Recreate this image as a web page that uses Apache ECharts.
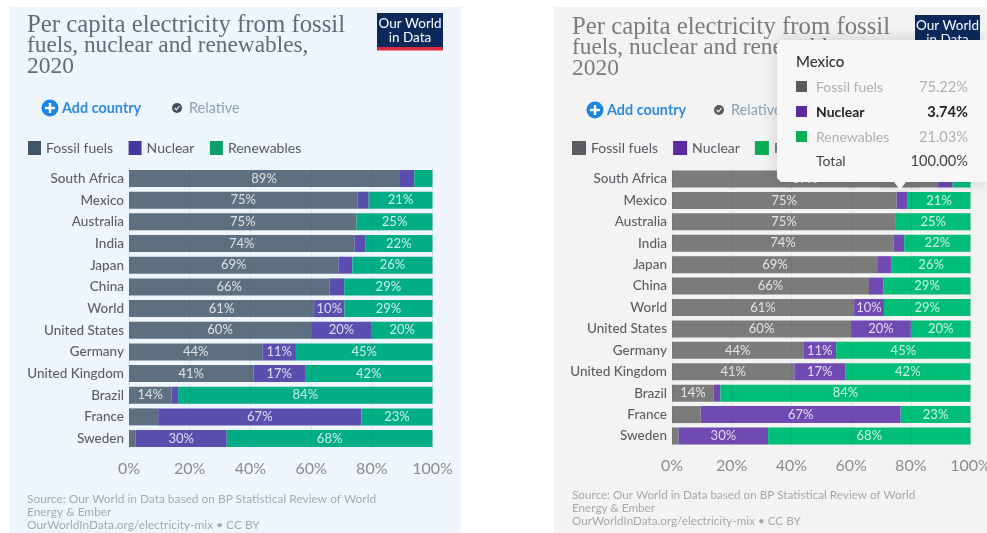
<!DOCTYPE html>
<html>
<head>
<meta charset="utf-8">
<style>html,body{margin:0;padding:0;background:#fff}#c{width:987px;height:533px}</style>
<script src="https://cdn.jsdelivr.net/npm/echarts@6/dist/echarts.min.js"></script>
</head>
<body>
<div id="c"></div>
<script>
const countries = ['South Africa','Mexico','Australia','India','Japan','China','World','United States','Germany','United Kingdom','Brazil','France','Sweden'];
const fossil = [89,75.22,75,74.3,69,66,61,60,44,41,14,9.6,2.2];
const nuclear = [5,3.74,0,3.5,4.6,4.9,10,20,11,17,2.2,67,30];
const renewables = [6,21.03,25,22.2,26.4,29.1,29,20,45,42,83.8,23.4,67.8];
const seriesNames = ['Fossil fuels','Nuclear','Renewables'];
const ticks = [0,20,40,60,80,100];
const titleLines = ['Per capita electricity from fossil','fuels, nuclear and renewables,','2020'];
const sourceLines = ['Source: Our World in Data based on BP Statistical Review of World','Energy & Ember','OurWorldInData.org/electricity-mix • CC BY'];
const tipCountry = 'Mexico';
const tipTotal = '100.00%';

const F = 'Lato, "Noto Sans", sans-serif';
const values = [fossil, nuclear, renewables];
const leftBar = ['#5d7082','#5a4fae','#00ad85'];
const rightBar = ['#7b7b7b','#7049b2','#00bd78'];
const leftSwatch = ['#41566a','#45389d','#0f9e6e'];
const rightSwatch = ['#5b5b5f','#5a2ca0','#0bae55'];
const titleSizes = [24.8,23.3,23.5];

function makeSeries(idx, colors){
  return seriesNames.map((n,i)=>({
    name:n, type:'bar', stack:'s'+idx, xAxisIndex:idx, yAxisIndex:idx,
    data:values[i], barWidth:17,
    itemStyle:{color:colors[i]},
    label:{show:true,position:'inside',fontFamily:F,fontSize:13,color:'rgba(255,255,255,0.8)',
      formatter:p=>p.value>=9.9?Math.round(p.value)+'%':''}
  }));
}
function xAxis(idx,margin){
  return {type:'value',gridIndex:idx,min:0,max:100,interval:20,z:3,
    axisLine:{show:false},axisTick:{show:false},
    axisLabel:{margin:margin,fontFamily:F,fontSize:16,color:'#8c8c8c',formatter:v=>ticks.includes(v)?v+'%':''},
    splitLine:{show:true,lineStyle:{color:'rgba(60,60,60,0.10)',type:'dashed',width:1}}};
}
function yAxis(idx,size){
  return {type:'category',gridIndex:idx,inverse:true,data:countries,
    axisLine:{show:false},axisTick:{show:false},
    axisLabel:{margin:5,fontFamily:F,fontSize:size,fontWeight:500,color:'#5b5f63'}};
}
function legend(left,top,swatch,gap,w){
  return {left:left,top:top,itemWidth:w,itemHeight:14,itemGap:gap,icon:'rect',selectedMode:false,
    textStyle:{fontFamily:F,fontSize:14,color:'#555b60'},
    padding:0,
    data:seriesNames.map((n,i)=>({name:n,itemStyle:{color:swatch[i]}}))};
}
function txt(x,y,t,o){
  return {type:'text',x:x,y:y,z:o.z||5,style:Object.assign({text:t,fontFamily:F,fontSize:14,fill:'#777',textVerticalAlign:'middle',textAlign:'left'},o.style||{})};
}
function header(x,titleY,color,addX,relX,cy,srcX,srcY,srcColor,checkColor,srcSize){
  const g=[];
  titleLines.forEach((l,i)=>g.push(txt(x,titleY+21*i,l,{style:{fontFamily:'"Liberation Serif",serif',fontSize:titleSizes[i],fill:color}})));
  sourceLines.forEach((l,i)=>g.push(txt(srcX,srcY+13*i,l,{style:{fontSize:srcSize,fill:srcColor}})));
  g.push({type:'circle',z:5,shape:{cx:addX,cy:cy,r:8.5},style:{fill:'#1d86e3'}});
  g.push({type:'rect',z:6,shape:{x:addX-5,y:cy-1.2,width:10,height:2.4},style:{fill:'#fff'}});
  g.push({type:'rect',z:6,shape:{x:addX-1.2,y:cy-5,width:2.4,height:10},style:{fill:'#fff'}});
  g.push(txt(addX+12,cy,'Add country',{style:{fontSize:14.4,fontWeight:700,fill:'#2f8be0'}}));
  g.push({type:'circle',z:5,shape:{cx:relX,cy:cy,r:5},style:{fill:checkColor}});
  g.push({type:'polyline',z:6,shape:{points:[[relX-2.3,cy],[relX-0.6,cy+1.8],[relX+2.4,cy-1.8]]},style:{stroke:'#eee',lineWidth:1.2,fill:'none'}});
  g.push(txt(relX+12,cy,'Relative',{style:{fontSize:14.5,fill:'#8ba2b4'}}));
  return g;
}
function logo(x,y,w,h,z){
  const g=[{type:'rect',z:z,shape:{x:x,y:y,width:w,height:h},style:{fill:'#0b2a5b'}},
    {type:'rect',z:z,shape:{x:x,y:y+h,width:w,height:3.5},style:{fill:'#dd2a3c'}}];
  g.push(txt(x+w/2,y+10.5,'Our World',{z:z+1,style:{fontSize:13.5,fill:'#fff',textAlign:'center'}}));
  g.push(txt(x+w/2,y+25,'in Data',{z:z+1,style:{fontSize:13.5,fill:'#fff',textAlign:'center'}}));
  return g;
}
function tooltip(){
  const z=100, g=[], i0=countries.indexOf(tipCountry);
  g.push({type:'polygon',z:z,shape:{points:[[777,44],[781,40],[987,40],[987,182],[906,182],[900,190],[894,182],[781,182],[777,178]]},
    style:{fill:'#f7f7f7',shadowBlur:16,shadowColor:'rgba(0,0,0,0.16)'}});
  g.push(txt(796,62,tipCountry,{z:z+1,style:{fontSize:15,fontWeight:500,fill:'#333'}}));
  const rows=[87,112,137];
  seriesNames.forEach((n,i)=>{
    const act=i===1;
    g.push({type:'rect',z:z+1,shape:{x:796,y:rows[i]-6,width:11,height:11},style:{fill:rightSwatch[i]}});
    g.push(txt(816,rows[i],n,{z:z+1,style:{fontSize:14,fontWeight:act?700:400,fill:act?'#222':'#b0b0b0'}}));
    g.push(txt(968,rows[i],values[i][i0].toFixed(2)+'%',{z:z+1,style:{fontSize:14.6,fontWeight:act?700:400,fill:act?'#222':'#b0b0b0',textAlign:'right'}}));
  });
  g.push(txt(816,161,'Total',{z:z+1,style:{fontSize:14,fill:'#444'}}));
  g.push(txt(968,161,tipTotal,{z:z+1,style:{fontSize:14.6,fill:'#444',textAlign:'right'}}));
  return g;
}
const graphics=[
  {type:'rect',z:-1,shape:{x:9,y:7,width:452,height:526},style:{fill:'#eff5fc'}},
  {type:'rect',z:-1,shape:{x:554,y:7,width:433,height:526},style:{fill:'#f3f3f3'}},
  ...header(27,25,'#5f6e7a',50,177,108,27,499,'#a3abb2','#3f4f5c',11.9),
  ...header(572,27,'#7b7b7b',595,719,110,572,495,'#a8a8a8','#5a5a5a',11.7),
  ...logo(377,13,66,34,5),
  ...logo(915,15,65,34,5),
  ...tooltip()
];
const chart=echarts.init(document.getElementById('c'),null,{renderer:'canvas'});
chart.setOption({
  animation:false,
  backgroundColor:'#fff',
  tooltip:{show:false},
  legend:[legend(28,141,leftSwatch,15.5,13),legend(572,141,rightSwatch,15,14)],
  grid:[
    {left:129,top:167.7,width:303.5,height:281.7,outerBoundsMode:'none'},
    {left:672,top:168.3,width:298.5,height:278.4,outerBoundsMode:'none'}
  ],
  xAxis:[xAxis(0,11),xAxis(1,11)],
  yAxis:[yAxis(0,13.5),yAxis(1,13.5)],
  series:[...makeSeries(0,leftBar),...makeSeries(1,rightBar)],
  graphic:{elements:graphics}
});
</script>
</body>
</html>
